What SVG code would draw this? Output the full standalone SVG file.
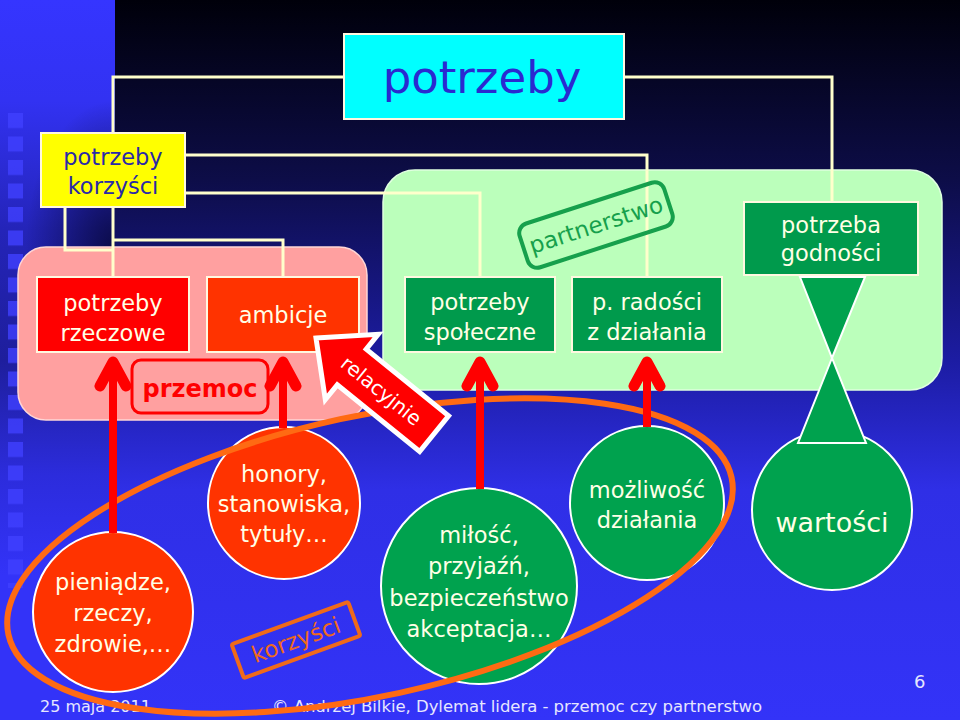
<svg xmlns="http://www.w3.org/2000/svg" width="960" height="720" viewBox="0 0 960 720">
<defs>
<linearGradient id="bg" x1="0" y1="0" x2="0" y2="720" gradientUnits="userSpaceOnUse">
<stop offset="0" stop-color="#00000a"/>
<stop offset="0.25" stop-color="#0d0d48"/>
<stop offset="0.5" stop-color="#1c1ca2"/>
<stop offset="0.68" stop-color="#2f2fe6"/>
<stop offset="1" stop-color="#3333f8"/>
</linearGradient>
<linearGradient id="stripe" x1="0" y1="0" x2="0" y2="720" gradientUnits="userSpaceOnUse">
<stop offset="0" stop-color="#3535ff"/>
<stop offset="0.14" stop-color="#3232f2"/>
<stop offset="0.32" stop-color="#2424b8"/>
<stop offset="0.5" stop-color="#1e1e9c"/>
<stop offset="0.66" stop-color="#2c2cdc"/>
<stop offset="0.8" stop-color="#3333f8"/>
</linearGradient>
<radialGradient id="shade" cx="115" cy="250" r="150" gradientUnits="userSpaceOnUse" gradientTransform="translate(115 250) scale(0.6 1) translate(-115 -250)">
<stop offset="0" stop-color="#000018" stop-opacity="0.7"/>
<stop offset="1" stop-color="#000018" stop-opacity="0"/>
</radialGradient>
<pattern id="sq" x="8" y="113" width="20" height="23.5" patternUnits="userSpaceOnUse">
<rect x="0" y="0" width="15" height="15" fill="#4040ff" fill-opacity="0.8"/>
</pattern>
</defs>
<style>
text{font-family:"DejaVu Sans",Verdana,sans-serif;text-anchor:middle}
.bx{stroke:#fff8e0;stroke-width:2}
.bt{fill:#ffffe6;font-size:22.5px}
.circ{stroke:#ffffff;stroke-width:2}
.red{fill:#ff0000}
.org{fill:#ff3300}
.grn{fill:#00a24e}
.line{fill:none;stroke:#ffffcc;stroke-width:3}
.shaft{stroke:#ff0000;stroke-width:8}
.head{fill:none;stroke:#ff0000;stroke-width:11;stroke-linecap:round;stroke-linejoin:round}
.ft{fill:#e6e6ff;text-anchor:start}
</style>
<rect x="0" y="0" width="960" height="720" fill="url(#bg)"/>
<rect x="0" y="0" width="115" height="720" fill="url(#stripe)"/>
<rect x="0" y="0" width="115" height="720" fill="url(#shade)"/>
<rect x="8" y="113" width="15" height="475" fill="url(#sq)"/>

<g id="panel-przemoc"><rect x="18" y="247" width="349" height="173" rx="28" fill="#ffa0a0" stroke="#ffd6d6" stroke-width="1.5"/></g>
<g id="panel-partnerstwo"><rect x="383" y="170" width="559" height="220" rx="32" fill="#bbffbb" stroke="#e0ffe0" stroke-width="1.5"/></g>

<g id="connectors">
<path class="line" d="M344,77 H113 V277"/>
<path class="line" d="M113,240 H283 V277"/>
<path class="line" d="M65,207 V250 H113"/>
<path class="line" d="M185,155 H647 V277"/>
<path class="line" d="M185,193 H480 V277"/>
<path class="line" d="M624,77 H832 V202"/>
</g>

<g id="potrzeby"><rect class="bx" x="344" y="34" width="280" height="85" fill="#00ffff"/><text x="482" y="93" font-size="45" fill="#2a2ad0">potrzeby</text></g>
<g id="potrzeby-korzysci"><rect class="bx" x="41" y="133" width="144" height="74" fill="#ffff00"/><text x="113" y="165" font-size="22.5" fill="#2a2aa8">potrzeby</text><text x="113" y="194" font-size="22.5" fill="#2a2aa8">korzyści</text></g>
<g id="potrzeby-rzeczowe"><rect class="bx red" x="37" y="277" width="152" height="75"/><text class="bt" x="113" y="311">potrzeby</text><text class="bt" x="113" y="341">rzeczowe</text></g>
<g id="ambicje"><rect class="bx org" x="207" y="277" width="152" height="75"/><text class="bt" x="283" y="323">ambicje</text></g>
<g id="przemoc"><rect x="132" y="360" width="136" height="53" rx="9" fill="none" stroke="#ff0000" stroke-width="3"/><text x="200" y="397" font-size="24" font-weight="bold" fill="#ff0000">przemoc</text></g>
<g id="potrzeby-spoleczne"><rect class="bx" x="405" y="277" width="150" height="75" fill="#009a4c"/><text class="bt" x="480" y="310">potrzeby</text><text class="bt" x="480" y="340">społeczne</text></g>
<g id="p-radosci"><rect class="bx" x="572" y="277" width="150" height="75" fill="#009a4c"/><text class="bt" x="647" y="310">p. radości</text><text class="bt" x="647" y="340">z działania</text></g>
<g id="potrzeba-godnosci"><rect class="bx" x="744" y="202" width="174" height="73" fill="#009a4c"/><text class="bt" x="831" y="233">potrzeba</text><text class="bt" x="831" y="261">godności</text></g>

<g id="partnerstwo" transform="translate(596 225) rotate(-18)"><rect x="-76" y="-23" width="152" height="46" rx="10" fill="none" stroke="#16a04c" stroke-width="4"/><text x="0" y="8" font-size="23" fill="#16a04c">partnerstwo</text></g>

<g id="pieniadze"><circle class="circ org" cx="113" cy="612" r="80"/><text class="bt" x="113" y="590">pieniądze,</text><text class="bt" x="113" y="621">rzeczy,</text><text class="bt" x="113" y="652">zdrowie,…</text></g>
<g id="honory"><circle class="circ org" cx="284" cy="503" r="76"/><text class="bt" x="284" y="482">honory,</text><text class="bt" x="284" y="512">stanowiska,</text><text class="bt" x="284" y="542">tytuły…</text></g>
<g id="milosc"><circle class="circ grn" cx="479" cy="586" r="98"/><text class="bt" x="479" y="543">miłość,</text><text class="bt" x="479" y="574">przyjaźń,</text><text class="bt" x="479" y="606">bezpieczeństwo</text><text class="bt" x="479" y="637">akceptacja…</text></g>
<g id="mozliwosc"><circle class="circ grn" cx="647" cy="503" r="77"/><text class="bt" x="647" y="498">możliwość</text><text class="bt" x="647" y="528">działania</text></g>
<g id="wartosci"><circle class="circ grn" cx="832" cy="510" r="80"/><polygon class="circ grn" points="800,277 865,277 832,358"/><polygon class="circ grn" points="832,358 798,443 866,443"/><text x="832" y="532" font-size="27" fill="#ffffe6">wartości</text></g>

<g id="korzysci" transform="translate(296 640) rotate(-20)"><rect x="-62" y="-18" width="124" height="36" rx="2" fill="none" stroke="#f06a1a" stroke-width="4"/><text x="0" y="8" font-size="23" fill="#f06a1a">korzyści</text></g>

<g id="footer"><text class="ft" x="40" y="712" font-size="16">25 maja 2011</text><text class="ft" x="272" y="712" font-size="16.5" textLength="490">© Andrzej Bilkie, Dylemat lidera - przemoc czy partnerstwo</text><text class="ft" x="914" y="688" font-size="18">6</text></g>

<g id="grupa"><ellipse cx="370" cy="556" rx="370" ry="140" transform="rotate(-12.25 370 556)" fill="none" stroke="#ff6a13" stroke-width="6"/></g>

<g id="arrows">
<line class="shaft" x1="113" y1="362" x2="113" y2="533"/><path class="head" d="M100,386 L113,362 L126,386"/>
<line class="shaft" x1="283" y1="362" x2="283" y2="428"/><path class="head" d="M270,386 L283,362 L296,386"/>
<line class="shaft" x1="480" y1="362" x2="480" y2="489"/><path class="head" d="M467,386 L480,362 L493,386"/>
<line class="shaft" x1="647" y1="362" x2="647" y2="427"/><path class="head" d="M634,386 L647,362 L660,386"/>
</g>
<g id="relacyjnie" transform="translate(316 338) rotate(39)"><path d="M0,0 L46,-42 L46,-23 L152,-23 L152,23 L46,23 L46,42 Z" fill="#ff0000" stroke="#ffffff" stroke-width="5"/><text x="84" y="7" font-size="20" fill="#ffffff">relacyjnie</text></g>
</svg>
